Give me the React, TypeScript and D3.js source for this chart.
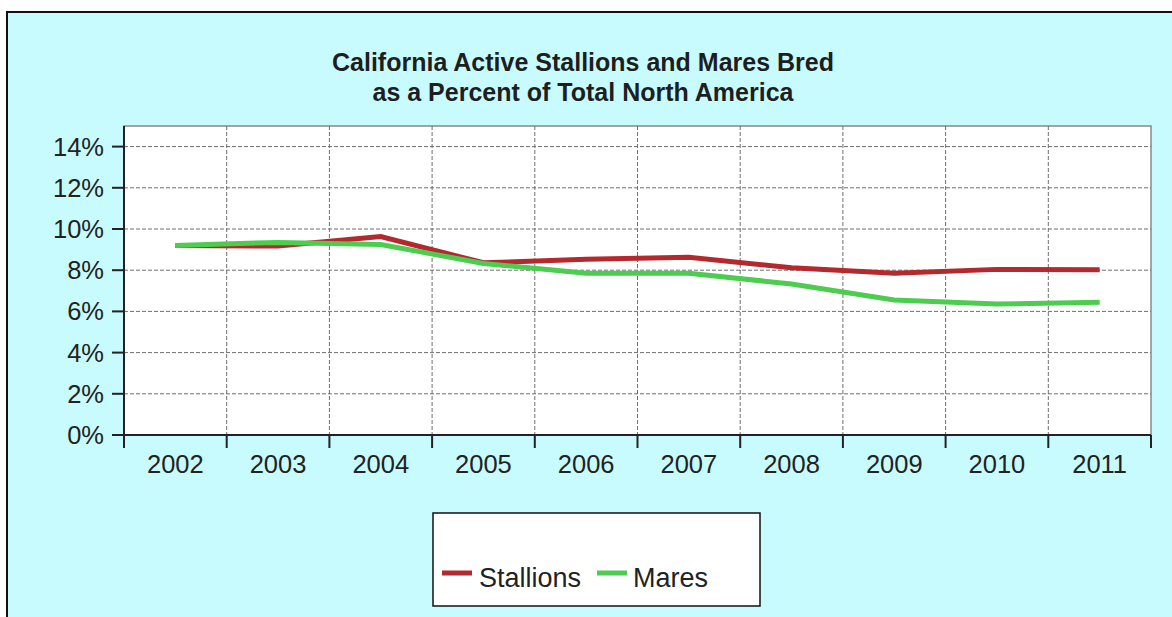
import React from "react";
import * as d3 from "d3";

const years = ["2002", "2003", "2004", "2005", "2006", "2007", "2008", "2009", "2010", "2011"];
const stallions = [9.2, 9.17, 9.63, 8.36, 8.53, 8.63, 8.12, 7.85, 8.04, 8.02];
const mares = [9.2, 9.35, 9.25, 8.33, 7.85, 7.85, 7.33, 6.55, 6.36, 6.44];
const yTicks = [0, 2, 4, 6, 8, 10, 12, 14];
const titleLines = ["California Active Stallions and Mares Bred", "as a Percent of Total North America"];
const seriesNames = ["Stallions", "Mares"];
const seriesColors = ["#b3292e", "#4ccd50"];

const W = 1172;
const H = 617;
const plot = { left: 124, right: 1151, top: 126, bottom: 435 };
const FONT = "'Liberation Sans', Arial, sans-serif";

export default function App() {
  const x = d3.scaleBand<string>().domain(years).range([plot.left, plot.right]).padding(0);
  const y = d3.scaleLinear().domain([0, 15]).range([plot.bottom, plot.top]);
  const bw = x.bandwidth();
  const cx = (i: number) => (x(years[i]) as number) + bw / 2;
  const line = d3
    .line<number>()
    .x((_, i) => cx(i))
    .y((d) => y(d));
  const series = [stallions, mares];
  const boundaries = years.map((yr) => x(yr) as number).concat([plot.right]);

  return (
    <svg
      width={W}
      height={H}
      style={{ position: "absolute", left: 0, top: 0, overflow: "hidden" }}
      fontFamily={FONT}
    >
      <rect x={0} y={0} width={W} height={H} fill="#ffffff" />
      <rect x={7} y={12} width={W + 50} height={H + 50} fill="#c8fbfe" stroke="#111" strokeWidth={2} />

      {titleLines.map((t, i) => (
        <text
          key={t}
          x={583}
          y={71 + i * 30}
          textAnchor="middle"
          fontSize={25}
          fontWeight="bold"
          fill="#1e1e1e"
        >
          {t}
        </text>
      ))}

      <rect
        x={plot.left}
        y={plot.top}
        width={plot.right - plot.left}
        height={plot.bottom - plot.top}
        fill="#ffffff"
        stroke="#888"
        strokeWidth={1.5}
      />

      {yTicks.filter((t) => t > 0).map((t) => (
        <line
          key={"hg" + t}
          x1={plot.left}
          x2={plot.right}
          y1={y(t)}
          y2={y(t)}
          stroke="#6e6e6e"
          strokeWidth={1}
          strokeDasharray="4,2"
        />
      ))}
      {boundaries.slice(1, -1).map((bx, i) => (
        <line
          key={"vg" + i}
          x1={bx}
          x2={bx}
          y1={plot.top}
          y2={plot.bottom}
          stroke="#6e6e6e"
          strokeWidth={1}
          strokeDasharray="4,2"
        />
      ))}

      {/* axes */}
      <line x1={plot.left} x2={plot.left} y1={plot.top} y2={plot.bottom + 1} stroke="#222" strokeWidth={2} />
      <line x1={plot.left - 1} x2={plot.right} y1={plot.bottom} y2={plot.bottom} stroke="#222" strokeWidth={2} />

      {yTicks.map((t) => (
        <g key={"yt" + t}>
          <line x1={plot.left - 12} x2={plot.left} y1={y(t)} y2={y(t)} stroke="#222" strokeWidth={2} />
          <text x={104} y={y(t) + 9} textAnchor="end" fontSize={25.5} fill="#222">
            {t + "%"}
          </text>
        </g>
      ))}

      {boundaries.map((bx, i) => (
        <line key={"xt" + i} x1={bx} x2={bx} y1={plot.bottom} y2={plot.bottom + 13} stroke="#222" strokeWidth={2} />
      ))}
      {years.map((yr, i) => (
        <text key={"xl" + yr} x={cx(i)} y={473} textAnchor="middle" fontSize={25.5} fill="#222">
          {yr}
        </text>
      ))}

      {series.map((s, k) => (
        <path
          key={"s" + k}
          d={line(s) as string}
          fill="none"
          stroke={seriesColors[k]}
          strokeWidth={5}
          strokeLinejoin="miter"
        />
      ))}

      {/* legend */}
      <rect x={433} y={513} width={327} height={93} fill="#ffffff" stroke="#111" strokeWidth={1.5} />
      {[
        { lx: 442, tx: 479 },
        { lx: 597, tx: 633 },
      ].map((p, k) => (
        <g key={"lg" + k}>
          <line x1={p.lx} x2={p.lx + 30} y1={573} y2={573} stroke={seriesColors[k]} strokeWidth={5} />
          <text x={p.tx} y={587} fontSize={27} fill="#222">
            {seriesNames[k]}
          </text>
        </g>
      ))}
    </svg>
  );
}
